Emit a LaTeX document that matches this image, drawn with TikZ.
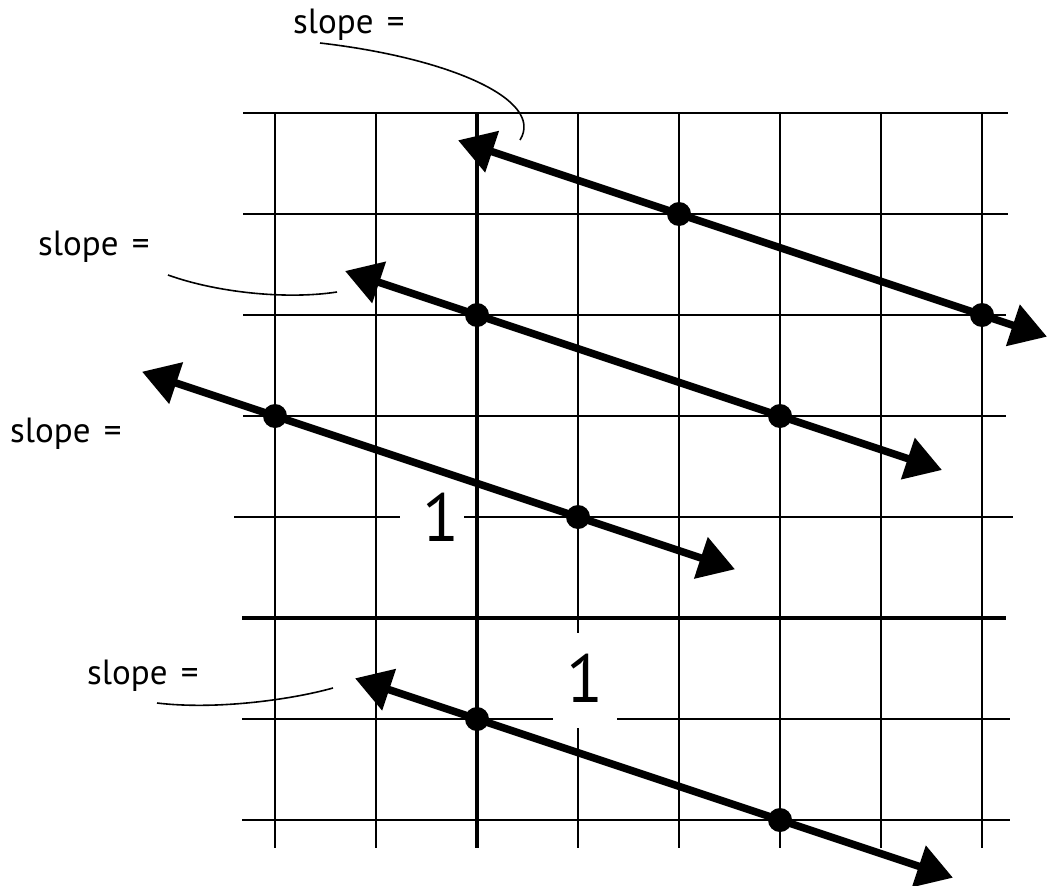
\documentclass[tikz,border=0pt]{standalone}
\usepackage{fontspec}
\newfontfamily\lblfont{PT Sans}
\usetikzlibrary{arrows.meta}
\tikzset{
  gridline/.style={line width=2.5pt, black},
  axisline/.style={line width=4.5pt, black},
  slopeline/.style={line width=7.5pt, black, {Triangle[length=36pt,width=42pt]}-{Triangle[length=36pt,width=42pt]}},
  dot/.style={circle, fill=black, inner sep=0pt, minimum size=24pt},
  leader/.style={line width=1.6pt, black},
  slopelabel/.style={anchor=base west, inner sep=0pt, font=\lblfont\fontsize{35}{35}\selectfont},
  onelabel/.style={inner sep=0pt, font=\lblfont\fontsize{68}{68}\selectfont},
}
\begin{document}
\begin{tikzpicture}[x=1pt, y=-1pt]
\useasboundingbox (0,0) rectangle (1047,886);
% horizontal grid lines
\draw[gridline] (243,113) -- (1008,113);
\draw[gridline] (243,214) -- (1008,214);
\draw[gridline] (243,315) -- (1006,315);
\draw[gridline] (243,416) -- (1006,416);
\draw[gridline] (234,517) -- (400,517);
\draw[gridline] (464,517) -- (1013,517);
\draw[axisline] (242,618) -- (1006,618);
\draw[gridline] (242,719) -- (553,719);
\draw[gridline] (617,719) -- (1010,719);
\draw[gridline] (242,820) -- (1010,820);
% vertical grid lines
\foreach \x in {275,376,679,780,881,982}
  \draw[gridline] (\x,113) -- (\x,848);
\draw[gridline] (578,113) -- (578,633);
\draw[gridline] (578,728) -- (578,848);
\draw[axisline] (477,113) -- (477,848);
% unit labels
\node[onelabel] (oneA) at (441,517) {1};
\node[onelabel] (oneB) at (585,678) {1};
% dots
\node[dot] (p1a) at (679,214) {};
\node[dot] (p1b) at (982,315) {};
\node[dot] (p2a) at (477,315) {};
\node[dot] (p2b) at (780,416) {};
\node[dot] (p3a) at (275,416) {};
\node[dot] (p3b) at (578,517) {};
\node[dot] (p4a) at (477,719) {};
\node[dot] (p4b) at (780,820) {};
% line end points
\coordinate (e1a) at (458,140.3);
\coordinate (e1b) at (1047,336.7);
\coordinate (e2a) at (345,271);
\coordinate (e2b) at (942,470);
\coordinate (e3a) at (142,371.7);
\coordinate (e3b) at (735,569.3);
\coordinate (e4a) at (355,678.3);
\coordinate (e4b) at (953,877.7);
\draw[slopeline] (e1a) -- (e1b);
\draw[slopeline] (e2a) -- (e2b);
\draw[slopeline] (e3a) -- (e3b);
\draw[slopeline] (e4a) -- (e4b);
% slope labels
\node[slopelabel] (s1) at (293,33) {slope\kern4pt{} =};
\node[slopelabel] (s2) at (38,255) {slope\kern4pt{} =};
\node[slopelabel] (s3) at (10,442) {slope\kern4pt{} =};
\node[slopelabel] (s4) at (87,684) {slope\kern4pt{} =};
% leaders
\coordinate (l1a) at (320,43);
\coordinate (l1b) at (520,140);
\coordinate (l2a) at (168,275);
\coordinate (l2b) at (337,292);
\coordinate (l4a) at (157,703);
\coordinate (l4b) at (333,688);
\draw[leader] (l1a) .. controls (450,58) and (545,100) .. (l1b);
\draw[leader] (l2a) .. controls (215,292) and (285,300) .. (l2b);
\draw[leader] (l4a) .. controls (215,710) and (290,700) .. (l4b);
\end{tikzpicture}
\end{document}
